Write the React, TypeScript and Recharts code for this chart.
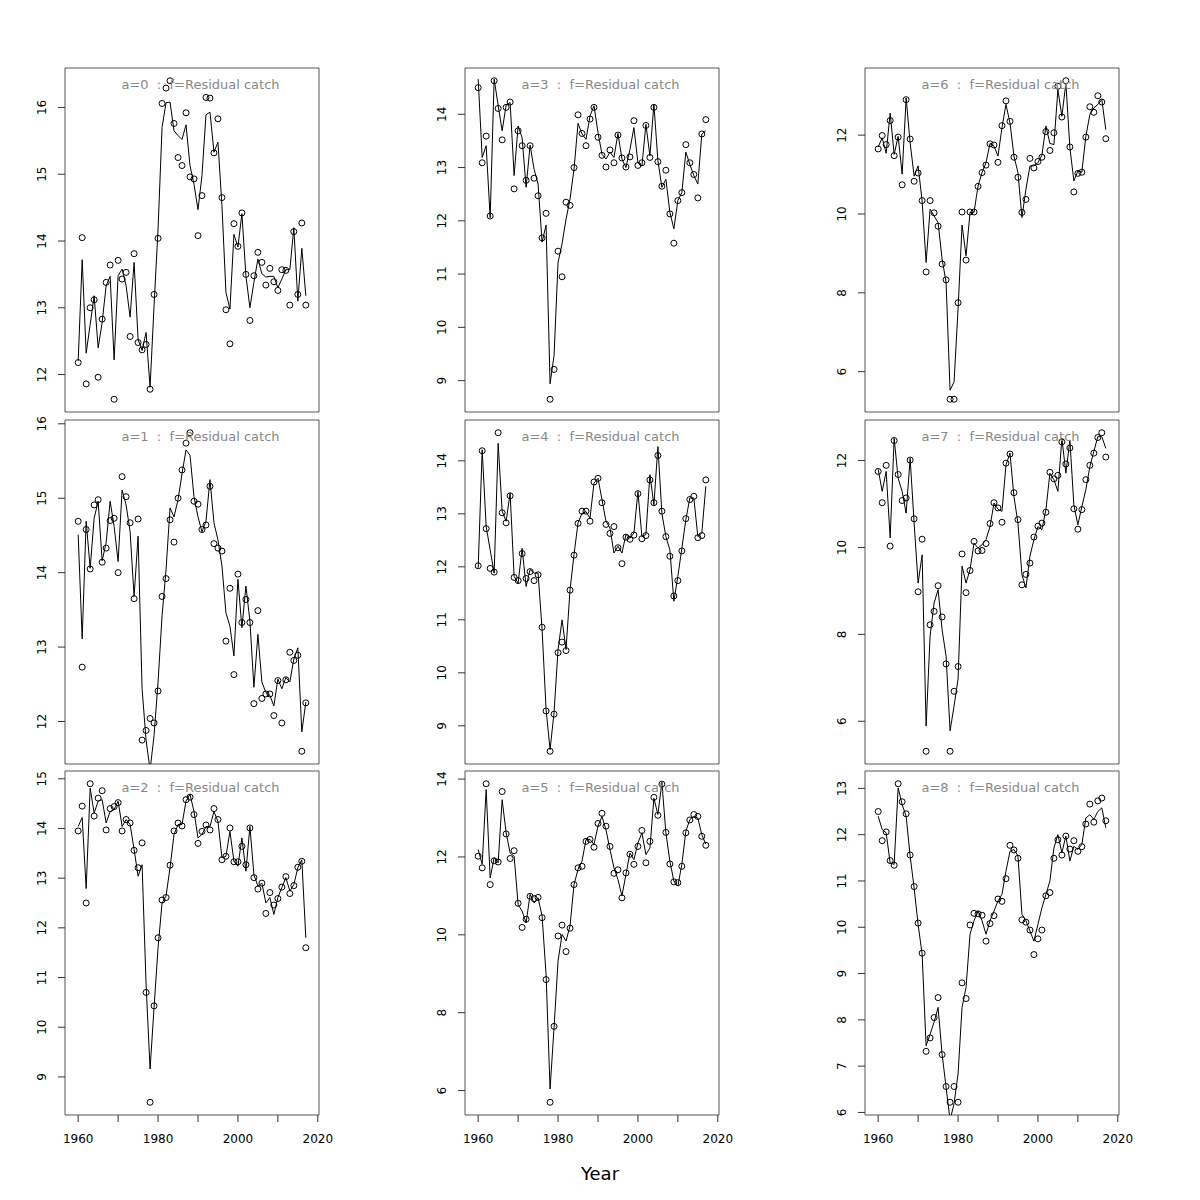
import React from 'react';
import { ComposedChart, Line, XAxis, YAxis, ReferenceArea } from 'recharts';

const years = [
  1960, 1961, 1962, 1963, 1964, 1965, 1966, 1967, 1968, 1969,
  1970, 1971, 1972, 1973, 1974, 1975, 1976, 1977, 1978, 1979,
  1980, 1981, 1982, 1983, 1984, 1985, 1986, 1987, 1988, 1989,
  1990, 1991, 1992, 1993, 1994, 1995, 1996, 1997, 1998, 1999,
  2000, 2001, 2002, 2003, 2004, 2005, 2006, 2007, 2008, 2009,
  2010, 2011, 2012, 2013, 2014, 2015, 2016, 2017,
];

// observed residual catch (points) and fitted (line), by age
const obsA0 = [12.18,14.05,11.86,13.0,13.12,11.96,12.83,13.38,13.64,11.63,13.71,13.43,13.53,12.57,13.81,12.48,12.37,12.45,11.78,13.2,14.04,16.06,16.29,16.4,15.76,15.25,15.13,15.92,14.96,14.93,14.08,14.68,16.15,16.14,15.32,15.83,14.65,12.97,12.46,14.26,13.92,14.42,13.5,12.81,13.48,13.83,13.68,13.34,13.59,13.39,13.26,13.57,13.56,13.04,14.14,13.2,14.27,13.04];
const fitA0 = [12.2,13.72,12.32,12.75,13.18,12.4,12.78,13.33,13.47,12.22,13.48,13.58,13.33,12.86,13.68,12.53,12.36,12.63,11.81,13.03,14.18,15.7,16.07,16.08,15.65,15.58,15.52,15.74,15.13,14.85,14.47,14.98,15.89,15.93,15.33,15.48,14.53,13.23,12.98,14.1,13.91,14.41,13.48,13.0,13.38,13.73,13.51,13.46,13.47,13.47,13.3,13.43,13.57,13.57,14.2,13.1,13.89,13.18];

const obsA1 = [14.69,12.73,14.58,14.05,14.91,14.98,14.14,14.33,14.7,14.73,14.0,15.29,15.02,14.67,13.65,14.72,11.75,11.88,12.04,11.98,12.41,13.68,13.92,14.71,14.41,15.0,15.38,15.74,15.88,14.96,14.92,14.58,14.64,15.16,14.39,14.33,14.29,13.08,13.79,12.63,13.98,13.33,13.64,13.33,12.24,13.49,12.31,12.37,12.37,12.08,12.55,11.98,12.56,12.93,12.82,12.89,11.6,12.25];
const fitA1 = [14.51,13.11,14.69,14.06,14.73,14.96,14.16,14.4,14.96,14.62,14.15,15.11,14.91,14.55,13.68,14.49,12.44,11.75,11.35,11.81,12.53,13.42,14.04,14.87,14.75,14.98,15.33,15.65,15.58,15.02,14.75,14.55,14.69,15.25,14.67,14.44,14.09,13.46,13.28,12.88,13.91,13.26,13.82,13.35,12.46,13.17,12.53,12.39,12.35,12.21,12.57,12.44,12.59,12.53,12.84,12.99,11.86,12.26];

const obsA2 = [13.95,14.45,12.5,14.9,14.25,14.61,14.76,13.97,14.4,14.44,14.52,13.95,14.18,14.11,13.56,13.21,13.71,10.7,8.49,10.43,11.8,12.56,12.61,13.26,13.95,14.11,14.05,14.58,14.63,14.28,13.7,13.94,14.07,13.97,14.4,14.18,13.37,13.44,14.01,13.33,13.33,13.64,13.27,14.01,13.01,12.78,12.9,12.29,12.71,12.46,12.59,12.82,13.03,12.69,12.85,13.22,13.34,11.6];
const fitA2 = [14.04,14.22,12.79,14.81,14.31,14.55,14.58,14.11,14.34,14.38,14.55,14.04,14.18,14.08,13.58,13.04,13.27,10.87,9.16,10.4,11.6,12.5,12.64,13.21,13.88,14.08,14.08,14.55,14.69,14.34,13.81,13.88,14.04,14.04,14.34,14.14,13.41,13.44,13.94,13.34,13.24,13.81,13.14,14.04,13.07,12.84,12.9,12.5,12.61,12.27,12.61,12.81,13.01,12.74,12.87,13.21,13.37,11.8];

const obsA3 = [14.5,13.09,13.59,12.09,14.63,14.11,13.52,14.13,14.23,12.6,13.69,13.41,12.76,13.41,12.8,12.47,11.68,12.14,8.65,9.21,11.43,10.95,12.35,12.29,13.0,13.99,13.64,13.41,13.91,14.13,13.57,13.23,13.01,13.33,13.09,13.61,13.18,13.01,13.2,13.88,13.04,13.09,13.79,13.19,14.13,13.11,12.65,12.95,12.13,11.58,12.38,12.53,13.43,13.09,12.87,12.43,13.63,13.9];
const fitA3 = [14.66,13.19,13.41,12.06,14.66,14.17,13.69,14.17,14.22,12.85,13.78,13.56,12.63,13.42,12.97,12.69,11.6,11.92,8.94,9.47,11.22,11.57,12.03,12.41,12.97,13.83,13.63,13.53,13.97,14.16,13.66,13.25,13.16,13.29,13.19,13.64,13.16,13.0,13.34,13.75,13.09,13.03,13.81,13.22,14.19,13.13,12.63,12.78,12.16,11.85,12.38,12.53,13.29,13.06,12.85,12.69,13.63,13.69];

const obsA4 = [12.02,14.19,12.72,11.97,11.9,14.53,13.02,12.83,13.34,11.8,11.74,12.25,11.78,11.91,11.74,11.85,10.86,9.28,8.52,9.22,10.38,10.58,10.42,11.56,12.22,12.82,13.05,13.05,12.86,13.6,13.67,13.21,12.8,12.63,12.76,12.36,12.06,12.56,12.52,12.6,13.38,12.53,12.59,13.64,13.21,14.1,13.05,12.57,12.2,11.45,11.74,12.3,12.91,13.27,13.33,12.55,12.59,13.64];
const fitA4 = [11.98,14.21,12.76,12.32,11.88,14.33,13.05,12.86,13.39,11.82,11.69,12.35,11.63,11.95,11.88,11.88,10.82,9.31,8.55,9.25,10.44,11.0,10.44,11.57,12.23,12.83,13.01,13.04,12.92,13.58,13.67,13.27,12.86,12.73,12.26,12.39,12.26,12.61,12.54,12.64,13.42,12.57,12.61,13.74,13.17,14.27,13.01,12.57,12.32,11.35,11.82,12.35,12.89,13.3,13.3,12.57,12.64,13.52];

const obsA5 = [12.02,11.72,13.88,11.29,11.9,11.87,13.68,12.59,11.96,12.16,10.81,10.19,10.4,10.99,10.93,10.96,10.44,8.85,5.7,7.65,9.97,10.25,9.57,10.17,11.29,11.72,11.76,12.4,12.45,12.25,12.86,13.12,12.79,12.27,11.58,11.67,10.95,11.59,12.07,11.81,12.27,12.68,11.85,12.4,13.53,13.07,13.87,12.63,11.82,11.36,11.34,11.76,12.62,12.95,13.09,13.04,12.53,12.3];
const fitA5 = [12.19,11.81,13.73,11.46,11.98,11.85,13.47,12.62,12.1,12.02,10.78,10.61,10.31,11.04,10.82,10.95,10.48,8.99,6.04,7.62,9.33,10.01,9.84,10.23,11.29,11.68,11.89,12.45,12.45,12.32,12.79,13.04,12.7,12.19,11.72,11.42,11.0,11.55,12.1,11.93,12.36,12.62,12.06,12.23,13.51,13.09,13.92,12.62,11.89,11.38,11.25,11.81,12.66,12.96,13.04,13.0,12.57,12.33];

const obsA6 = [11.65,11.99,11.76,12.37,11.48,11.95,10.74,12.9,11.9,10.83,11.04,10.34,8.53,10.34,10.03,9.69,8.73,8.33,5.3,5.3,7.75,10.05,8.83,10.05,10.05,10.7,11.05,11.24,11.78,11.75,11.31,12.24,12.87,12.35,11.44,10.93,10.04,10.37,11.41,11.17,11.33,11.44,12.09,11.61,12.06,13.24,12.46,13.38,11.7,10.56,11.03,11.06,11.95,12.72,12.58,13.0,12.84,11.91];
const fitA6 = [11.7,11.93,11.54,12.56,11.51,11.97,11.01,12.94,11.81,10.96,11.22,10.33,8.77,10.12,9.95,9.78,8.86,8.27,5.53,5.74,7.59,9.72,8.94,10.04,10.04,10.71,11.05,11.3,11.79,11.72,11.47,12.19,12.78,12.31,11.47,11.05,9.91,10.63,11.22,11.22,11.3,11.49,12.23,11.79,11.76,13.15,12.48,13.32,11.68,10.84,11.09,11.06,11.97,12.52,12.69,12.78,12.9,12.14];

const obsA7 = [11.75,11.03,11.89,10.03,12.46,11.68,11.08,11.14,12.01,10.66,8.98,10.19,5.31,8.22,8.53,9.12,8.4,7.32,5.31,6.69,7.26,9.85,8.96,9.47,10.14,9.92,9.93,10.09,10.55,11.03,10.91,10.58,11.94,12.15,11.26,10.64,9.14,9.38,9.64,10.24,10.49,10.56,10.81,11.73,11.58,11.66,12.43,11.92,12.29,10.89,10.42,10.87,11.56,11.89,12.17,12.53,12.64,12.08];
const fitA7 = [11.8,11.29,11.75,10.22,12.51,11.59,11.29,10.79,12.05,10.56,9.18,9.83,5.89,7.96,8.72,9.03,8.11,7.5,5.78,6.35,6.97,9.57,9.18,9.49,10.1,9.99,10.06,10.18,10.48,11.02,10.88,10.83,11.9,12.17,11.17,10.56,9.37,9.07,9.8,10.18,10.48,10.41,10.87,11.71,11.56,11.29,12.51,11.71,12.47,10.98,10.52,10.94,11.33,11.86,12.21,12.55,12.55,12.28];

const obsA8 = [12.5,11.87,12.06,11.44,11.34,13.1,12.71,12.45,11.56,10.88,10.09,9.44,7.32,7.61,8.05,8.48,7.25,6.56,6.22,6.56,6.22,8.8,8.46,10.05,10.3,10.29,10.26,9.7,10.08,10.25,10.61,10.56,11.05,11.77,11.67,11.49,10.16,10.11,9.94,9.41,9.75,9.94,10.68,10.75,11.49,11.89,11.56,11.97,11.69,11.87,11.64,11.74,12.23,12.66,12.27,12.73,12.79,12.3];
const fitA8 = [12.4,12.11,12.04,11.39,11.36,13.01,12.65,12.4,11.54,10.85,10.06,9.42,7.44,7.69,7.95,8.27,7.26,6.55,5.83,6.19,6.83,8.27,8.7,9.85,10.14,10.35,10.14,9.85,10.14,10.35,10.57,10.71,11.21,11.64,11.68,11.54,10.28,10.14,9.92,9.7,10.06,10.42,10.71,11.0,11.71,12.0,11.61,11.97,11.43,11.75,11.68,11.79,12.36,12.43,12.33,12.5,12.58,12.15];

const ticksA0 = [12, 13, 14, 15, 16];
const ticksA1 = [12, 13, 14, 15, 16];
const ticksA2 = [9, 10, 11, 12, 13, 14, 15];
const ticksA3 = [9, 10, 11, 12, 13, 14];
const ticksA4 = [9, 10, 11, 12, 13, 14];
const ticksA5 = [6, 8, 10, 12, 14];
const ticksA6 = [6, 8, 10, 12];
const ticksA7 = [6, 8, 10, 12];
const ticksA8 = [6, 7, 8, 9, 10, 11, 12, 13];

const xTicks = [1960, 1970, 1980, 1990, 2000, 2010, 2020];
const xLabelled = [1960, 1980, 2000, 2020];

const FONT = '"DejaVu Sans", Verdana, sans-serif';
const X_DOMAIN: [number, number] = [1956.7, 2020.3];

const BOX_W = 254;
const BOX_H = 344;
const PAD_L = 60;
const PAD_T = 20;
const PAD_R = 20;
const PAD_B = 50;
const COL_LEFT = [65, 465, 865];
const ROW_TOP = [68, 420, 771];

// R-style axis range: data range plus 4% each side
const rDomain = (v: number[]): [number, number] => {
  const lo = Math.min(...v);
  const hi = Math.max(...v);
  const pad = (hi - lo) * 0.04;
  return [lo - pad, hi + pad];
};

const panels = [
  { age: 0, obs: obsA0, fit: fitA0, ticks: ticksA0, col: 0, row: 0 },
  { age: 1, obs: obsA1, fit: fitA1, ticks: ticksA1, col: 0, row: 1 },
  { age: 2, obs: obsA2, fit: fitA2, ticks: ticksA2, col: 0, row: 2 },
  { age: 3, obs: obsA3, fit: fitA3, ticks: ticksA3, col: 1, row: 0 },
  { age: 4, obs: obsA4, fit: fitA4, ticks: ticksA4, col: 1, row: 1 },
  { age: 5, obs: obsA5, fit: fitA5, ticks: ticksA5, col: 1, row: 2 },
  { age: 6, obs: obsA6, fit: fitA6, ticks: ticksA6, col: 2, row: 0 },
  { age: 7, obs: obsA7, fit: fitA7, ticks: ticksA7, col: 2, row: 1 },
  { age: 8, obs: obsA8, fit: fitA8, ticks: ticksA8, col: 2, row: 2 },
];

const YTick = (props: any) => {
  const { y, payload } = props;
  const bx = PAD_L - 19;
  return (
    <text
      x={bx}
      y={y}
      transform={`rotate(-90, ${bx}, ${y})`}
      textAnchor="middle"
      fontSize={12}
      fontFamily={FONT}
      fill="#000"
    >
      {payload.value}
    </text>
  );
};

const XTick = (props: any) => {
  const { x, y, payload } = props;
  if (!xLabelled.includes(payload.value)) return <g />;
  return (
    <text x={x} y={y + 19} textAnchor="middle" fontSize={12} fontFamily={FONT} fill="#000">
      {payload.value}
    </text>
  );
};

const Panel = ({ p }: { p: (typeof panels)[number] }) => {
  const data = years.map((yr, i) => ({ year: yr, obs: p.obs[i], fit: p.fit[i] }));
  const yDom = rDomain(p.obs);
  const bottomRow = p.row === 2;
  return (
    <div
      style={{
        position: 'absolute',
        left: COL_LEFT[p.col] - PAD_L,
        top: ROW_TOP[p.row] - PAD_T,
        width: BOX_W + PAD_L + PAD_R,
        height: BOX_H + PAD_T + PAD_B,
      }}
    >
      <ComposedChart
        width={BOX_W + PAD_L + PAD_R}
        height={BOX_H + PAD_T + PAD_B}
        data={data}
        margin={{ top: PAD_T, right: PAD_R, left: 0, bottom: 0 }}
      >
        <XAxis
          dataKey="year"
          type="number"
          domain={X_DOMAIN}
          allowDataOverflow
          ticks={xTicks}
          interval={0}
          height={PAD_B}
          axisLine={false}
          stroke="#333"
          tickSize={7}
          tickLine={bottomRow}
          tick={bottomRow ? XTick : false}
        />
        <YAxis
          type="number"
          domain={yDom}
          allowDataOverflow
          ticks={p.ticks}
          interval={0}
          width={PAD_L}
          axisLine={false}
          stroke="#333"
          tickSize={7}
          tick={YTick}
        />
        <ReferenceArea
          x1={X_DOMAIN[0]}
          x2={X_DOMAIN[1]}
          y1={yDom[0]}
          y2={yDom[1]}
          fill="none"
          stroke="#555"
          strokeWidth={1}
          ifOverflow="visible"
        />
        <Line
          type="linear"
          dataKey="fit"
          stroke="#000"
          strokeWidth={1}
          dot={false}
          activeDot={false}
          isAnimationActive={false}
        />
        <Line
          type="linear"
          dataKey="obs"
          stroke="none"
          dot={{ r: 3, fill: 'none', stroke: '#000', strokeWidth: 1 }}
          activeDot={false}
          isAnimationActive={false}
        />
      </ComposedChart>
    </div>
  );
};

export default function App() {
  return (
    <div
      style={{
        position: 'absolute',
        left: 0,
        top: 0,
        width: 1200,
        height: 1200,
        background: '#fff',
        fontFamily: FONT,
      }}
    >
      {panels.map((p) => (
        <Panel key={p.age} p={p} />
      ))}
      <svg
        width={1200}
        height={1200}
        style={{ position: 'absolute', left: 0, top: 0, pointerEvents: 'none' }}
      >
        {panels.map((p) => (
          <text
            key={p.age}
            x={COL_LEFT[p.col] + 135.5}
            y={ROW_TOP[p.row] + 21}
            textAnchor="middle"
            fontSize={13}
            fontFamily={FONT}
            fill="#888"
            style={{ whiteSpace: 'pre' }}
          >
            {`a=${p.age}  :  f=Residual catch`}
          </text>
        ))}
        <text x={600} y={1180} textAnchor="middle" fontSize={18} fontFamily={FONT} fill="#000">
          Year
        </text>
      </svg>
    </div>
  );
}
